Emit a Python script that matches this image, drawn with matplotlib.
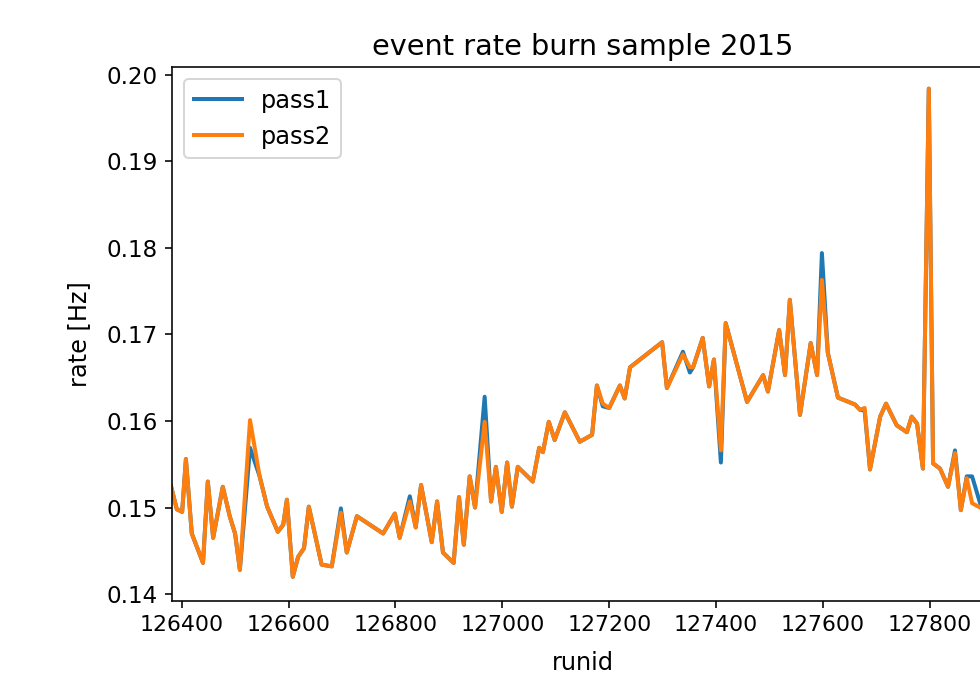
import numpy as np
import matplotlib
matplotlib.use("Agg")
import matplotlib.pyplot as plt

plt.rcParams["font.size"] = 12
plt.rcParams["xtick.labelsize"] = 11
plt.rcParams["ytick.labelsize"] = 11.5

# runs of the 2015 burn sample and their event rates
runid = [126380, 126391, 126401, 126408, 126419, 126440, 126449, 126459, 126477, 126490,
         126500, 126509, 126528, 126546, 126560, 126580, 126590, 126597, 126608, 126618,
         126629, 126638, 126662, 126681, 126698, 126709, 126728, 126777, 126799, 126808,
         126827, 126838, 126848, 126868, 126878, 126889, 126909, 126919, 126928, 126939,
         126949, 126967, 126979, 126988, 126999, 127009, 127018, 127029, 127057, 127069,
         127076, 127087, 127098, 127117, 127145, 127168, 127177, 127188, 127200, 127220,
         127229, 127239, 127299, 127308, 127338, 127351, 127357, 127375, 127387, 127396,
         127409, 127418, 127458, 127488, 127497, 127518, 127529, 127538, 127557, 127577,
         127589, 127598, 127609, 127628, 127660, 127669, 127678, 127688, 127707, 127718,
         127738, 127757, 127766, 127776, 127787, 127798, 127806, 127819, 127834, 127847,
         127858, 127869, 127879, 127894, 127912]

rate_pass2 = [0.1525, 0.1498, 0.1495, 0.1556, 0.1470, 0.1436, 0.1530, 0.1465, 0.1524, 0.1490,
              0.1470, 0.1428, 0.1601, 0.1536, 0.1501, 0.1472, 0.1480, 0.1509, 0.1420, 0.1443,
              0.1453, 0.1501, 0.1434, 0.1432, 0.1494, 0.1448, 0.1490, 0.1470, 0.1493, 0.1465,
              0.1507, 0.1477, 0.1526, 0.1460, 0.1507, 0.1448, 0.1436, 0.1512, 0.1457, 0.1536,
              0.1500, 0.1599, 0.1507, 0.1547, 0.1495, 0.1552, 0.1501, 0.1547, 0.1530, 0.1569,
              0.1564, 0.1599, 0.1578, 0.1610, 0.1576, 0.1584, 0.1641, 0.1620, 0.1615, 0.1641,
              0.1626, 0.1662, 0.1691, 0.1638, 0.1677, 0.1662, 0.1662, 0.1696, 0.1640, 0.1671,
              0.1566, 0.1713, 0.1622, 0.1653, 0.1634, 0.1705, 0.1653, 0.1740, 0.1607, 0.1690,
              0.1653, 0.1763, 0.1679, 0.1627, 0.1619, 0.1613, 0.1615, 0.1544, 0.1605, 0.1620,
              0.1595, 0.1587, 0.1605, 0.1597, 0.1545, 0.1984, 0.1551, 0.1545, 0.1524, 0.1563,
              0.1497, 0.1534, 0.1505, 0.1500, 0.1495]

rate_pass1 = list(rate_pass2)
# runs where pass1 differs from pass2
diff_pass1 = {126528: 0.1569, 126698: 0.1499, 126827: 0.1513, 126967: 0.1628,
              127188: 0.1617, 127338: 0.1680, 127351: 0.1656, 127409: 0.1552,
              127598: 0.1794, 127678: 0.1612, 127847: 0.1566, 127869: 0.1536,
              127879: 0.1536, 127894: 0.1505}
for i, r in enumerate(runid):
    if r in diff_pass1:
        rate_pass1[i] = diff_pass1[r]

fig = plt.figure(figsize=(980 / 144, 674 / 144), dpi=144)
ax = fig.add_axes([172 / 980, 1 - 601 / 674, (994 - 172) / 980, (601 - 67) / 674])

ax.plot(runid, rate_pass1, lw=2, label="pass1")
ax.plot(runid, rate_pass2, lw=2, label="pass2")

ax.set_xlim(126382, 127920)
ax.set_ylim(0.1392, 0.2009)
ax.set_xticks(np.arange(126400, 127801, 200))
ax.set_yticks([0.14, 0.15, 0.16, 0.17, 0.18, 0.19, 0.20])
ax.set_yticklabels(["0.14", "0.15", "0.16", "0.17", "0.18", "0.19", "0.20"])
ax.set_title("event rate burn sample 2015")
ax.set_xlabel("runid", labelpad=8)
ax.set_ylabel("rate [Hz]", labelpad=8)
ax.legend(loc="upper left")

fig.savefig("out.png", dpi=144)
